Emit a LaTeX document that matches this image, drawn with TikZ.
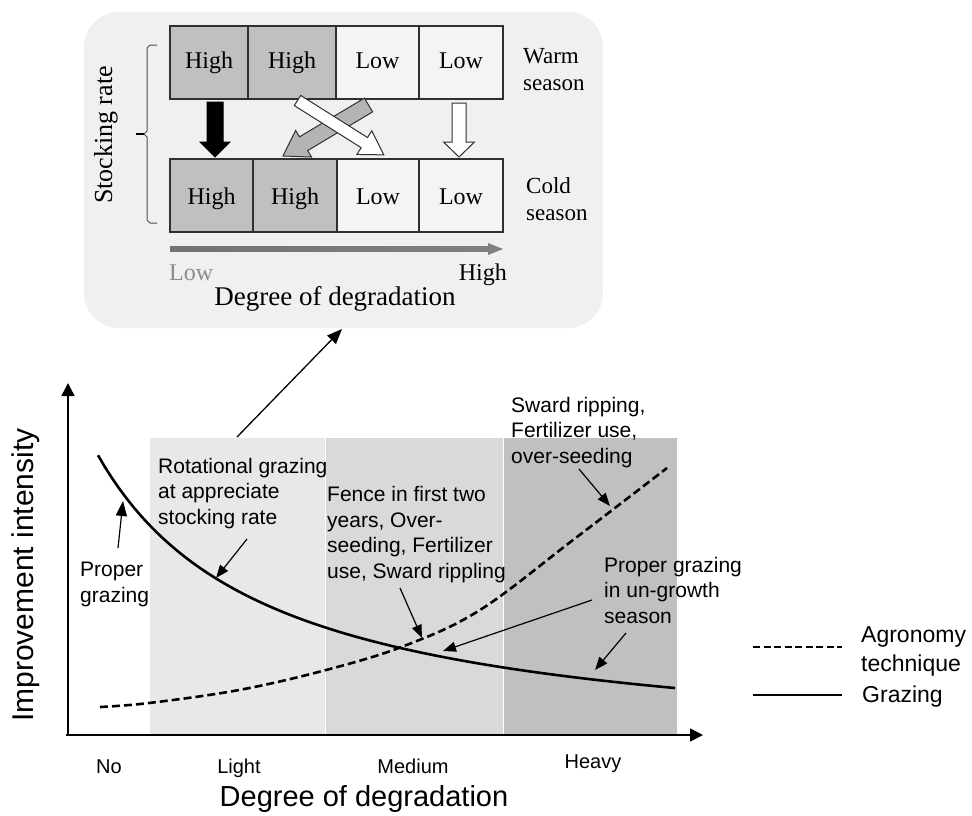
\documentclass[tikz,border=0pt]{standalone}
\usepackage{fontspec}
\setmainfont{Liberation Serif}
\newfontfamily\arialf{Liberation Sans}
\usetikzlibrary{arrows.meta,calc}
\definecolor{panelbg}{HTML}{F0F0F0}
\definecolor{cellhi}{HTML}{C0C0C0}
\definecolor{celllo}{HTML}{F4F4F4}
\definecolor{bandA}{HTML}{E8E8E8}
\definecolor{bandB}{HTML}{D9D9D9}
\definecolor{bandC}{HTML}{C0C0C0}
\definecolor{outl}{HTML}{303030}
\definecolor{grayarr}{HTML}{B4B4B4}
\newcommand\blkarrow[7]{%
  \draw[#1,shift={#2},rotate=#3] (0,#5) -- ({#4-#7},#5) -- ({#4-#7},#6) -- (#4,0)
    -- ({#4-#7},-#6) -- ({#4-#7},-#5) -- (0,-#5) -- cycle;}
\tikzset{
  lab/.style={font=\arialf\fontsize{21}{25.5}\selectfont, inner sep=0, align=left, anchor=base west},
  catlab/.style={font=\arialf\fontsize{20}{24}\selectfont, inner sep=0, anchor=base},
  leglab/.style={font=\arialf\fontsize{23}{29}\selectfont, inner sep=0, align=left, anchor=base west},
  cellbox/.style={draw=outl, line width=1.1},
  celltxt/.style={font=\fontsize{24}{28}\selectfont, inner sep=0, anchor=base},
  seastxt/.style={font=\fontsize{23}{26.5}\selectfont, inner sep=0, align=left, anchor=base west},
  annarrow/.style={line width=1.2, -{Triangle[length=13,width=10]}},
  axisline/.style={line width=1.5, -{Triangle[length=13,width=13]}},
  curvesolid/.style={line width=2.6},
  curvedash/.style={line width=2.6, dash pattern=on 8pt off 4pt},
}
\begin{document}
\begin{tikzpicture}[x=1pt,y=-1pt]
\useasboundingbox (0,0) rectangle (972,815);
\fill[white] (0,0) rectangle (972,815);

% ---------- top panel ----------
\fill[panelbg, rounded corners=35pt] (84,12) rectangle (603,328);

% cells top row
\filldraw[cellbox, fill=cellhi] (170,26) rectangle (248,99);
\filldraw[cellbox, fill=cellhi] (248,26) rectangle (336,99);
\filldraw[cellbox, fill=celllo] (336,26) rectangle (419,99);
\filldraw[cellbox, fill=celllo] (419,26) rectangle (503,99);
% cells bottom row
\filldraw[cellbox, fill=cellhi] (170,159) rectangle (253,232);
\filldraw[cellbox, fill=cellhi] (253,159) rectangle (337,232);
\filldraw[cellbox, fill=celllo] (337,159) rectangle (419,232);
\filldraw[cellbox, fill=celllo] (419,159) rectangle (503,232);

\node[celltxt] (t1) at (209,68) {High};
\node[celltxt] (t2) at (292,68) {High};
\node[celltxt] (t3) at (377.5,68) {Low};
\node[celltxt] (t4) at (461,68) {Low};
\node[celltxt] (b1) at (211.5,204) {High};
\node[celltxt] (b2) at (295,204) {High};
\node[celltxt] (b3) at (378,204) {Low};
\node[celltxt] (b4) at (461,204) {Low};

% (base anchor of a multi-line node = baseline of its last line)
\node[seastxt] (warm) at (523,90) {Warm\\season};
\node[seastxt] (cold) at (526,220) {Cold\\season};

\node[font=\fontsize{26}{30}\selectfont, inner sep=0, rotate=90, anchor=base] (stock) at (112,135) {Stocking rate};

% bracket
\draw[gray!60!black, line width=1] (157,45) -- (150,45) -- (147,48) -- (147,131) -- (144,134)
  -- (147,137) -- (147,220) -- (150,223) -- (157,223);
\draw[black, line width=1.3] (136,134) -- (144,134);

% block arrows
\blkarrow{fill=black, draw=black, line width=1}{(215,102)}{-90}{55}{8}{15}{15}
\blkarrow{fill=white, draw=outl, line width=1}{(459,103)}{-90}{54}{7}{15.5}{15}
\blkarrow{fill=grayarr, draw=outl, line width=1}{(368.5,105)}{210.8}{99.6}{8}{15.5}{24}
\blkarrow{fill=white, draw=outl, line width=1}{(297.5,100.5)}{-32.2}{102}{6}{14}{23}

% gradient arrow
\shade[left color=black!55, middle color=black!30, right color=black!50] (170,246.5) rectangle (489,251.5);
\fill[black!50] (488,243) -- (503,249) -- (488,255) -- cycle;
\node[celltxt, anchor=base west, text=black!45] (lowlab) at (169,280) {Low};
\node[celltxt, anchor=base east] (highlab) at (507,280) {High};
\node[font=\fontsize{27}{31}\selectfont, inner sep=0, anchor=base] (degtop) at (335,305) {Degree of degradation};

% ---------- lower chart ----------
\fill[bandA] (150,438) rectangle (325,735);
\fill[bandB] (326,438) rectangle (502.5,735);
\fill[bandC] (503.5,438) rectangle (677,735);

% axes
\coordinate (origin) at (68,735);
\coordinate (ytop) at (68,383);
\coordinate (xend) at (703,735);
\draw[axisline] (68,736) -- (ytop);
\draw[axisline] (66,735) -- (xend);

% curves
\draw[curvedash] plot[smooth, tension=0.6] coordinates {(100,707) (149,703) (239,690) (326,670) (404,646) (480,610) (573,540) (667,468)};
\draw[curvesolid] plot[domain=98:675, samples=80] (\x, {757 - 516/((\x+73)/100)});

% arrow to top panel
\coordinate (upS) at (237,437);
\coordinate (upE) at (342,329);
\draw[line width=1.3, -{Triangle[length=15,width=12]}] (upS) -- (upE);

% labels
\node[lab] (pg) at (80,602) {Proper\\grazing};
\node[lab] (rot) at (158,524) {Rotational grazing\\at appreciate\\stocking rate};
\node[lab] (fence) at (327,578) {Fence in first two\\years, Over-\\seeding, Fertilizer\\use, Sward rippling};
\node[lab] (sward) at (511,463) {Sward ripping,\\Fertilizer use,\\over-seeding};
\node[lab] (pgu) at (604,623) {Proper grazing\\in un-growth\\season};

\coordinate (pgS) at (118,548);   \coordinate (pgE) at (123,501);
\coordinate (rotS) at (247,539);  \coordinate (rotE) at (216,578);
\coordinate (fenS) at (400,588);  \coordinate (fenE) at (422,638);
\coordinate (swS) at (579,469);   \coordinate (swE) at (610,506);
\coordinate (pu1S) at (592,600);  \coordinate (pu1E) at (443,651);
\coordinate (pu2S) at (626,633);  \coordinate (pu2E) at (595,670);
\draw[annarrow, -{Triangle[length=15,width=11]}] (pgS) -- (pgE);
\draw[annarrow] (rotS) -- (rotE);
\draw[annarrow] (fenS) -- (fenE);
\draw[annarrow] (swS) -- (swE);
\draw[annarrow] (pu1S) -- (pu1E);
\draw[annarrow] (pu2S) -- (pu2E);

% category labels
\node[catlab] (cno) at (109,773) {No};
\node[catlab] (cli) at (239,773) {Light};
\node[catlab] (cme) at (413,773) {Medium};
\node[catlab] (che) at (593,768) {Heavy};
\node[font=\arialf\fontsize{29}{34}\selectfont, inner sep=0, anchor=base] (degbot) at (364,806) {Degree of degradation};
\node[font=\arialf\fontsize{30}{34}\selectfont, inner sep=0, rotate=90, anchor=base] (yl) at (33,575) {Improvement intensity};

% legend
\coordinate (l1a) at (753,647); \coordinate (l1b) at (842,647);
\coordinate (l2a) at (753,695); \coordinate (l2b) at (842,695);
\draw[line width=2, dash pattern=on 7pt off 3.5pt] (l1a) -- (l1b);
\draw[line width=2.2] (l2a) -- (l2b);
\node[leglab] (lagr) at (861,671) {Agronomy\\technique};
\node[leglab] (lgra) at (862,702) {Grazing};
\end{tikzpicture}
\end{document}
